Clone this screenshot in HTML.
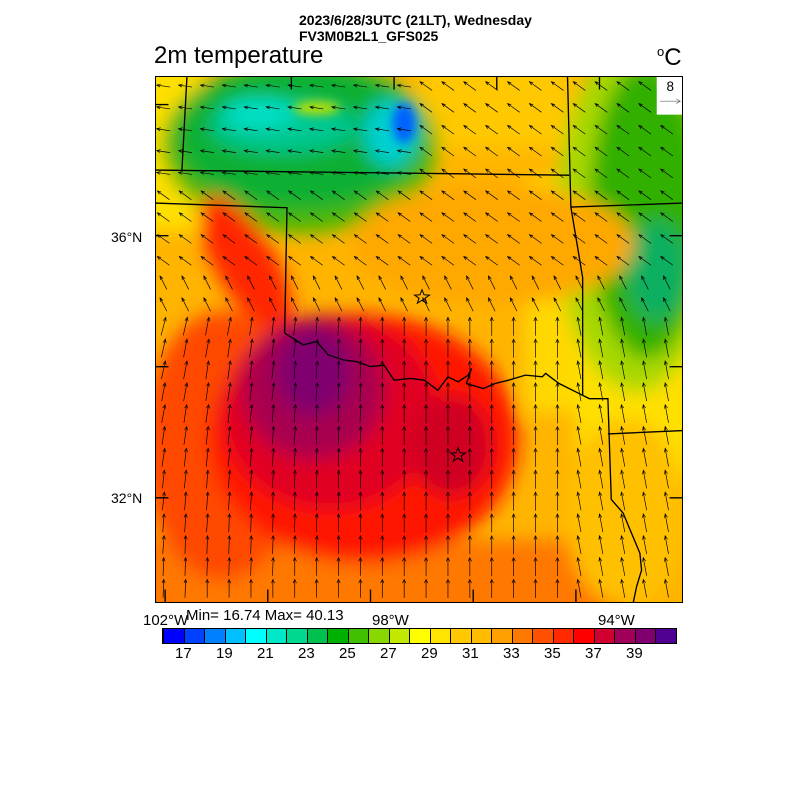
<!DOCTYPE html>
<html><head><meta charset="utf-8"><style>
body{margin:0;background:#fff;width:800px;height:800px;position:relative;overflow:hidden;font-family:"Liberation Sans",sans-serif}
.t{position:absolute;white-space:nowrap;color:#000}
</style></head><body>
<div class="t" style="left:299px;top:12px;font-size:14px;font-weight:bold">2023/6/28/3UTC (21LT), Wednesday</div>
<div class="t" style="left:299px;top:28px;font-size:14px;font-weight:bold">FV3M0B2L1_GFS025</div>
<div class="t" style="left:154px;top:42px;font-size:24px">2m temperature</div>
<div class="t" style="left:657px;top:44px;font-size:24px"><sup style="font-size:13px">o</sup>C</div>
<svg style="position:absolute;left:155px;top:76px" width="528" height="527" viewBox="0 0 1568 1568" preserveAspectRatio="none">
<defs>
<filter id="b" x="-50%" y="-50%" width="200%" height="200%"><feGaussianBlur stdDeviation="28"/></filter>
<filter id="b2" x="-50%" y="-50%" width="200%" height="200%"><feGaussianBlur stdDeviation="15"/></filter>
<clipPath id="c"><rect width="1568" height="1568"/></clipPath>
</defs>
<g clip-path="url(#c)">
<rect width="1568" height="1568" fill="#ffb400"/>
<g filter="url(#b)">
<rect x="-100" y="-100" width="240" height="560" fill="#ffe000"/>
<rect x="780" y="-100" width="460" height="320" fill="#ffc800"/>
<rect x="1100" y="300" width="250" height="700" fill="#ffd800"/>
<rect x="1250" y="700" width="400" height="500" fill="#ffe000"/>
<ellipse cx="1430" cy="420" rx="240" ry="520" fill="#a8d800"/>
<ellipse cx="1460" cy="400" rx="170" ry="440" fill="#30b000"/>
<ellipse cx="1490" cy="580" rx="90" ry="150" fill="#10b060"/>
<ellipse cx="430" cy="210" rx="410" ry="260" fill="#50b800"/>
<ellipse cx="430" cy="180" rx="370" ry="220" fill="#10b030"/>
<ellipse cx="380" cy="150" rx="220" ry="80" fill="#00c890"/>
<ellipse cx="310" cy="110" rx="110" ry="45" fill="#00e0c8"/>
<ellipse cx="700" cy="170" rx="80" ry="100" fill="#00d0d0"/>
<ellipse cx="1000" cy="500" rx="420" ry="180" fill="#ffa800"/>
<rect x="-100" y="1380" width="1500" height="300" fill="#ff7800"/>
<ellipse cx="200" cy="1100" rx="240" ry="400" fill="#ff4800"/>
<ellipse cx="620" cy="1080" rx="460" ry="370" fill="#ff1800"/>
<ellipse cx="270" cy="560" rx="90" ry="230" fill="#ff2800" transform="rotate(-30 270 560)"/>
<ellipse cx="520" cy="1000" rx="320" ry="290" fill="#e00020"/>
<ellipse cx="470" cy="930" rx="210" ry="210" fill="#a80050"/>
<ellipse cx="470" cy="880" rx="110" ry="130" fill="#800070"/>
<ellipse cx="880" cy="1100" rx="120" ry="150" fill="#d00020"/>
<ellipse cx="1400" cy="1300" rx="180" ry="280" fill="#ffc000"/>
</g>
<g filter="url(#b2)">
<ellipse cx="740" cy="140" rx="35" ry="60" fill="#0060ff"/>
<ellipse cx="480" cy="95" rx="70" ry="20" fill="#c0e000"/>
</g>
<g fill="none" stroke="#000" stroke-width="4">
<path d="M95 0 L80 280 M0 280 L1230 295 M1225 0 L1235 390 L1270 600 L1270 950 M1235 390 L1568 378 M0 378 L392 392 L385 765"/>
<path d="M385 765 L440 800 L480 790 L515 830 L560 845 L600 850 L640 865 L680 860 L710 905 L760 900 L800 905 L840 935 L870 895 L900 910 L930 890 L940 870 L925 915 L975 930 L1010 915 L1050 905 L1100 890 L1150 895 L1160 885 L1200 915 L1250 940 L1290 960 L1345 960 L1355 1260 L1390 1300 L1415 1360 L1440 1420 L1445 1470 L1430 1520 L1420 1568 M1345 1065 L1568 1055"/>
<path d="M0 85 H40 M0 475 H40 M0 865 H40 M0 1255 H40 M1528 475 H1568 M1528 865 H1568 M1528 1255 H1568 M405 0 V40 M710 0 V40 M1015 0 V40 M1320 0 V40 M30 1528 V1568 M335 1528 V1568 M640 1528 V1568 M945 1528 V1568 M1250 1528 V1568"/>
<path d="M793 636 L799 651 L815 652 L802 661 L807 676 L793 667 L779 676 L784 661 L771 652 L787 651 Z M900 1106 L906 1121 L922 1122 L909 1131 L914 1146 L900 1137 L886 1146 L891 1131 L878 1122 L894 1121 Z" stroke-width="3"/>
</g>
<g id="arr" stroke="#000" stroke-width="2" fill="none"></g>
<rect x="1490" y="0" width="78" height="115" fill="#fff"/>
<text x="1530" y="45" font-size="40" text-anchor="middle" font-family="Liberation Sans">8</text>
<path d="M1500 75 H1560 M1548 68 L1560 75 L1548 82" stroke="#666" stroke-width="2" fill="none"/>
</g>
<rect x="1" y="1" width="1566" height="1566" fill="none" stroke="#000" stroke-width="4"/>
</svg>
<div class="t" style="left:111px;top:229px;font-size:14px">36°N</div>
<div class="t" style="left:111px;top:490px;font-size:14px">32°N</div>
<div class="t" style="left:143px;top:612px;font-size:15px">102°W</div>
<div class="t" style="left:186px;top:607px;font-size:15px">Min= 16.74 Max= 40.13</div>
<div class="t" style="left:372px;top:612px;font-size:15px">98°W</div>
<div class="t" style="left:598px;top:612px;font-size:15px">94°W</div>
<div id="cb" style="position:absolute;left:162px;top:628px;width:513px;height:14px;display:flex;border:1px solid #000"></div>
<div id="cl"></div>
<script>
var cols=["#0000ff","#0040ff","#0080ff","#00c0ff","#00ffff","#00e8c8","#00d890","#00c050","#00b000","#40c000","#88d800","#c0e800","#ffff00","#ffe400","#ffc800","#ffbc00","#ffa000","#ff7800","#ff5000","#ff2800","#ff0000","#d00030","#a00058","#800070","#500090"];
var cb=document.getElementById('cb');
cols.forEach(function(c){var d=document.createElement('div');d.style.cssText='flex:1;background:'+c+';border-left:1px solid #000';cb.appendChild(d);});
var cl=document.getElementById('cl');
for(var i=0;i<12;i++){var v=17+2*i;var d=document.createElement('div');d.className='t';d.style.cssText='font-size:15px;top:645px;left:'+(175+i*41)+'px';d.textContent=v;cl.appendChild(d);}
var g=document.getElementById('arr'),s='';
for(var y=30;y<1568;y+=65){for(var x=25;x<1568;x+=65){
var a,L=45;
if(y>700){a=-90+ (x<700? 15*(1-(y-700)/900)*(1-x/700):0) + (x>1200?-10:0);L=55;}
else if(y<320&&x<780){a=-170;L=40;}
else {a=-145;}
if(y>600&&y<=700)a=-115;
var r=a*Math.PI/180,dx=Math.cos(r)*L,dy=Math.sin(r)*L;
var x0=x-dx/2,y0=y-dy/2,x1=x+dx/2,y1=y+dy/2;
var h1=r+Math.PI-0.4,h2=r+Math.PI+0.4;
s+='<path d="M'+x0.toFixed(0)+' '+y0.toFixed(0)+' L'+x1.toFixed(0)+' '+y1.toFixed(0)+' M'+(x1+12*Math.cos(h1)).toFixed(0)+' '+(y1+12*Math.sin(h1)).toFixed(0)+' L'+x1.toFixed(0)+' '+y1.toFixed(0)+' L'+(x1+12*Math.cos(h2)).toFixed(0)+' '+(y1+12*Math.sin(h2)).toFixed(0)+'"/>';
}}
g.innerHTML=s;
</script>
</body></html>
